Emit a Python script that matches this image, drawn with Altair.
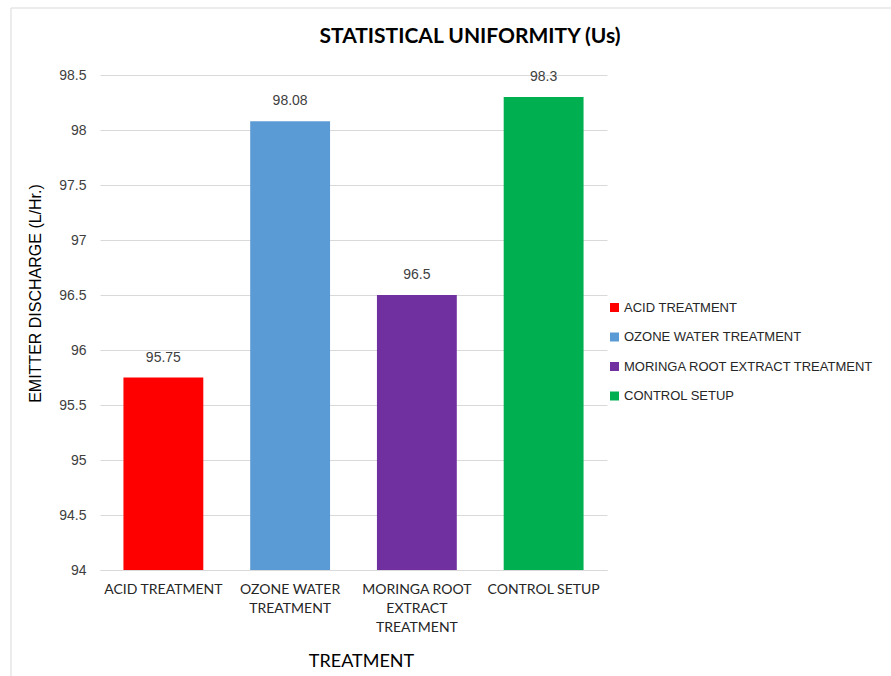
import altair as alt
import pandas as pd

categories = ["ACID TREATMENT", "OZONE WATER TREATMENT", "MORINGA ROOT EXTRACT TREATMENT", "CONTROL SETUP"]
values = [95.75, 98.08, 96.5, 98.3]
value_labels = ["95.75", "98.08", "96.5", "98.3"]
colors = ["#FF0000", "#5B9BD5", "#7030A0", "#00B050"]
x_label_lines = [["ACID TREATMENT"], ["OZONE WATER", "TREATMENT"], ["MORINGA ROOT", "EXTRACT", "TREATMENT"], ["CONTROL SETUP"]]
y_ticks = [94, 94.5, 95, 95.5, 96, 96.5, 97, 97.5, 98, 98.5]
chart_title = ["STATISTICAL UNIFORMITY (Us)"]

df = pd.DataFrame({"cat": categories, "val": values, "lab": value_labels})

expr = "datum.label"
for c, lines in reversed(list(zip(categories, x_label_lines))):
    arr = "[" + ",".join("'" + l + "'" for l in lines) + "]"
    expr = f"datum.value == '{c}' ? {arr} : ({expr})"

W, H = 507, 495
TXT = "#404040"

x_enc = alt.X(
    "cat:N", sort=categories,
    scale=alt.Scale(paddingInner=0.37, paddingOuter=0.185),
    axis=alt.Axis(
        title="TREATMENT", labelAngle=0, labelExpr=expr, labelFont="Lato", labelFontSize=14,
        labelColor="#262626", labelLineHeight=19, labelPadding=12, labelBaseline="top",
        ticks=False, domainColor="#d9d9d9", domainWidth=1, grid=False,
        titleFont="Lato", titleFontSize=18, titleFontWeight="normal", titleColor="#000000",
        titleX=261, titleY=91, titleBaseline="middle", labelLimit=200,
    ),
)

y_scale = alt.Scale(domain=[94, 98.5], zero=False, nice=False)

bars = alt.Chart(df).mark_bar().encode(
    x=x_enc,
    y=alt.Y(
        "val:Q", scale=y_scale,
        axis=alt.Axis(
            values=y_ticks, format="~g", title="EMITTER DISCHARGE (L/Hr.)", ticks=False, domain=False,
            gridColor="#d9d9d9", gridWidth=1, labelFont="Liberation Sans", labelFontSize=14,
            labelColor=TXT, labelPadding=14, titleFont="Liberation Sans", titleFontSize=16,
            titleFontWeight="normal", titleColor="#000000", titleX=-65, titleY=218,
            titleBaseline="middle", titleAngle=270,
        ),
    ),
    y2=alt.datum(94),
    color=alt.Color(
        "cat:N", sort=categories, scale=alt.Scale(domain=categories, range=colors),
        legend=alt.Legend(
            title=None, orient="none", legendX=508, legendY=226, symbolType="square",
            symbolSize=81, symbolStrokeWidth=0, labelFont="Liberation Sans", labelFontSize=13,
            labelColor="#262626", rowPadding=15.5, labelOffset=3, labelLimit=400,
        ),
    ),
)

texts = alt.Chart(df).mark_text(
    font="Liberation Sans", fontSize=14, color=TXT, baseline="middle", dy=-20
).encode(x=alt.X("cat:N", sort=categories), y=alt.Y("val:Q", scale=y_scale), text="lab:N")

title_layer = alt.Chart(pd.DataFrame({"t": chart_title})).mark_text(
    font="Lato", fontSize=21, fontWeight="bold", color="#000000", baseline="middle", align="center"
).encode(x=alt.value(370), y=alt.value(-38), text="t:N")

border_top = alt.Chart(pd.DataFrame({"a": [0]})).mark_rule(color="#d9d9d9", strokeWidth=1).encode(
    x=alt.value(-89), x2=alt.value(791), y=alt.value(-67)
)
border_left = alt.Chart(pd.DataFrame({"a": [0]})).mark_rule(color="#d9d9d9", strokeWidth=1).encode(
    x=alt.value(-89), y=alt.value(-67), y2=alt.value(601)
)

chart = alt.layer(bars, texts, title_layer, border_top, border_left).properties(
    width=W, height=H,
    background="white",
    autosize=alt.AutoSizeParams(type="none"),
    padding={"left": 100, "top": 75, "right": 284, "bottom": 106},
).configure_view(stroke="transparent", strokeWidth=0)

chart.save("out.html", embed_options={"renderer": "svg", "actions": False})
